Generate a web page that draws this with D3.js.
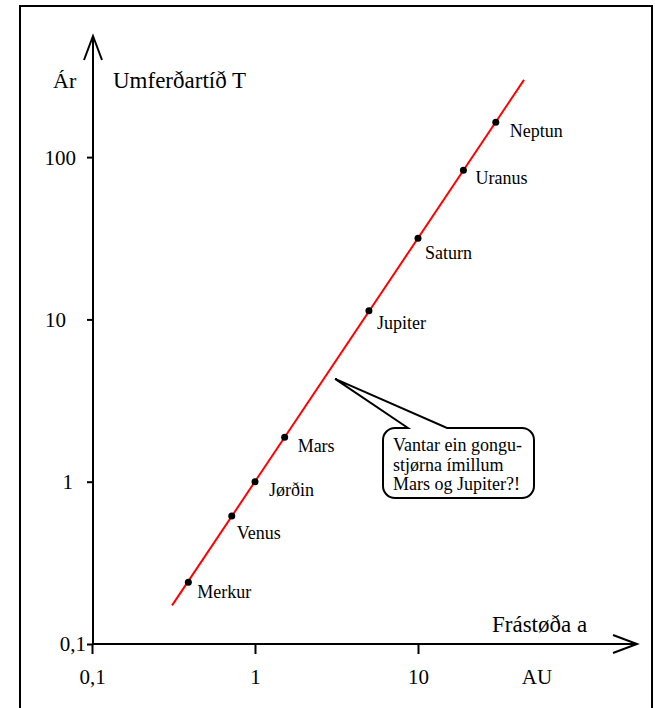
<!DOCTYPE html>
<html>
<head>
<meta charset="utf-8">
<script src="https://cdn.jsdelivr.net/npm/d3@7"></script>
<style>
  body { margin: 0; background: #fff; }
  svg text { font-family: "Liberation Serif", "DejaVu Serif", serif; fill: #000; }
</style>
</head>
<body>
<div id="chart-div"></div>
<script>
// planets: distance a (AU) and period T (years)
var planets = ["Merkur", "Venus", "Jørðin", "Mars", "Jupiter", "Saturn", "Uranus", "Neptun"];
var distances = [0.39, 0.72, 1.0, 1.52, 5.0, 10.0, 19.0, 30.0];
var periods = [0.24, 0.615, 1.0, 1.88, 11.3, 31.6, 83, 164];

// ends of the red line
var lineDistances = [0.31, 44.7];
var linePeriods = [0.173, 299];

var xTicks = [0.1, 1, 10],
    yTicks = [0.1, 1, 10, 100];

var calloutLines = ["Vantar ein gongu-", "stjørna ímillum", "Mars og Jupiter?!"];
var gapPoint = [3.1, 4.3];

var width = 655,
    height = 708;

var svg = d3.select("#chart-div").append("svg")
    .attr("width", width)
    .attr("height", height);

// frame
svg.append("rect")
    .attr("x", 20).attr("y", 6)
    .attr("width", 632).attr("height", 730)
    .attr("fill", "none")
    .attr("stroke", "#000")
    .attr("stroke-width", 2);

var xScale = d3.scaleLog()
    .domain([0.1, 100])
    .range([92, 92 + 3 * 163]);

var yScale = d3.scaleLog()
    .domain([0.1, 1000])
    .range([644, 644 - 4 * 162.3]);

var fmt = function(d) { return d < 1 ? "0,1" : d3.format("d")(d); };

// axes lines with open arrowheads
svg.append("path")
    .attr("d", "M92,644H637M613,635L637,644L613,653")
    .attr("fill", "none").attr("stroke", "#000").attr("stroke-width", 2);
svg.append("path")
    .attr("d", "M93,644V36M84,60L93,36L102,60")
    .attr("fill", "none").attr("stroke", "#000").attr("stroke-width", 2);

// x axis ticks
var gx = svg.append("g")
    .attr("transform", "translate(0,644)")
    .call(d3.axisBottom(xScale).tickValues(xTicks).tickSize(10).tickFormat(fmt));
gx.select(".domain").remove();
gx.selectAll("line").attr("stroke-width", 2);
gx.selectAll("text")
    .attr("y", 40).attr("dy", 0)
    .style("font-size", "21px")
    .style("font-family", "Liberation Serif");

// y axis ticks
var yLabelEnd = {0.1: 86, 1: 73, 10: 66, 100: 76};
var gy = svg.append("g")
    .attr("transform", "translate(93,0)")
    .call(d3.axisLeft(yScale).tickValues(yTicks).tickSize(6).tickFormat(fmt));
gy.select(".domain").remove();
gy.selectAll("line").attr("stroke-width", 2);
gy.selectAll("text")
    .attr("x", function(d) { return yLabelEnd[d] - 93; })
    .attr("dy", "0.33em")
    .style("font-size", "21px")
    .style("font-family", "Liberation Serif");

// axis titles
svg.append("text").attr("x", 53).attr("y", 88).style("font-size", "22px").text("Ár");
svg.append("text").attr("x", 113).attr("y", 88).style("font-size", "23px").text("Umferðartíð T");
svg.append("text").attr("x", 492).attr("y", 632).style("font-size", "23px").text("Frástøða a");
svg.append("text").attr("x", 537).attr("y", 684).attr("text-anchor", "middle").style("font-size", "21px").text("AU");

// red line
var lineData = lineDistances.map(function(a, i) { return [a, linePeriods[i]]; });
svg.append("path")
    .datum(lineData)
    .attr("d", d3.line()
        .x(function(d) { return xScale(d[0]); })
        .y(function(d) { return yScale(d[1]); }))
    .attr("fill", "none")
    .attr("stroke", "#ff0000")
    .attr("stroke-width", 2);

// planets
var labelOffsets = [[9, 16], [5, 23], [14, 14], [13, 15], [8, 18], [7, 21], [12, 14], [14, 15]];
var planetData = planets.map(function(name, i) {
    return {name: name, a: distances[i], t: periods[i], off: labelOffsets[i]};
});

svg.selectAll("circle.planet")
    .data(planetData)
    .enter()
    .append("circle")
        .attr("class", "planet")
        .attr("cx", function(d) { return xScale(d.a); })
        .attr("cy", function(d) { return yScale(d.t); })
        .attr("r", 3.5)
        .attr("fill", "#000");

svg.selectAll("text.planet")
    .data(planetData)
    .enter()
    .append("text")
        .attr("class", "planet")
        .attr("x", function(d) { return xScale(d.a) + d.off[0]; })
        .attr("y", function(d) { return yScale(d.t) + d.off[1]; })
        .style("font-size", "18px")
        .text(function(d) { return d.name; });

// callout bubble
var bx0 = 383, bx1 = 534, by0 = 428, by1 = 498, r = 12;
var tipX = xScale(gapPoint[0]), tipY = yScale(gapPoint[1]);
var bubble = d3.path();
bubble.moveTo(408, by0);
bubble.lineTo(tipX, tipY);
bubble.lineTo(447, by0);
bubble.lineTo(bx1 - r, by0);
bubble.arcTo(bx1, by0, bx1, by0 + r, r);
bubble.lineTo(bx1, by1 - r);
bubble.arcTo(bx1, by1, bx1 - r, by1, r);
bubble.lineTo(bx0 + r, by1);
bubble.arcTo(bx0, by1, bx0, by1 - r, r);
bubble.lineTo(bx0, by0 + r);
bubble.arcTo(bx0, by0, bx0 + r, by0, r);
bubble.closePath();
svg.append("path")
    .attr("d", bubble.toString())
    .attr("fill", "#fff")
    .attr("stroke", "#000")
    .attr("stroke-width", 2)
    .attr("stroke-linejoin", "miter");

svg.selectAll("text.callout")
    .data(calloutLines)
    .enter()
    .append("text")
        .attr("class", "callout")
        .attr("x", 393)
        .attr("y", function(d, i) { return 451 + i * 19.5; })
        .style("font-size", "18px")
        .text(function(d) { return d; });
</script>
</body>
</html>
